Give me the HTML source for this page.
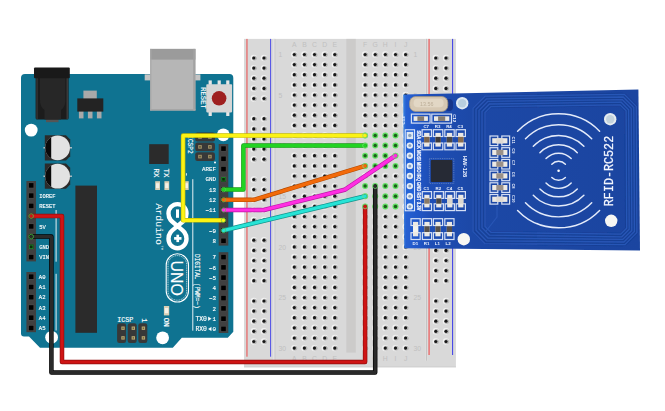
<!DOCTYPE html>
<html lang="en"><head><meta charset="utf-8"><title>Arduino UNO + RFID-RC522 wiring</title>
<style>
html,body{margin:0;padding:0;background:#fff;}
body{width:665px;height:411px;overflow:hidden;}
svg{display:block;filter:blur(0.4px);}
.mono{font-family:"Liberation Mono","DejaVu Sans Mono",monospace;}
.sans{font-family:"Liberation Sans","DejaVu Sans",sans-serif;}
</style></head><body>
<svg width="665" height="411" viewBox="0 0 665 411">
<defs>
<g id="h"><circle r="3.2" fill="#f3f3f3"/><circle cx="0.7" cy="0.2" r="2.5" fill="#b9b9b9"/><circle r="1.6" fill="#191919"/></g>
<g id="gh"><circle r="3.0" fill="#62e062"/><circle r="1.75" fill="#1b5e1b"/></g>
<g id="pin"><rect x="-3" y="-3" width="6" height="6" fill="#4a4a4a"/><rect x="-2.3" y="-2.3" width="4.6" height="4.6" fill="#000"/></g>
<linearGradient id="rf" x1="0" x2="1" y1="0" y2="0">
<stop offset="0" stop-color="#3a86e0"/><stop offset="0.012" stop-color="#2660d2"/><stop offset="0.06" stop-color="#2157c8"/><stop offset="0.11" stop-color="#1e4eb6"/><stop offset="0.3" stop-color="#1c48a6"/><stop offset="1" stop-color="#1b45a0"/>
</linearGradient>
<filter id="bl" x="-10%" y="-10%" width="120%" height="120%"><feGaussianBlur stdDeviation="0.45"/></filter>
<filter id="bl2" x="-10%" y="-10%" width="120%" height="120%"><feGaussianBlur stdDeviation="0.7"/></filter>
<clipPath id="capclip1"><rect x="40" y="130" width="11.2" height="70"/></clipPath>
</defs>
<rect width="665" height="411" fill="#fff"/>

<g id="breadboard">
<rect x="244" y="38.9" width="211.9" height="328.4" fill="#d9d9d9"/>
<rect x="244" y="366.3" width="211.9" height="1" fill="#cfcfcf"/>
<rect x="346.3" y="38.9" width="9.5" height="313.7" fill="#cccbca"/>
<rect x="273.0" y="38.9" width="2.2" height="321.8" fill="#e2e2e2"/><rect x="274.6" y="38.9" width="0.8" height="321.8" fill="#c6c6c6"/>
<rect x="425.4" y="38.9" width="2.0" height="321.8" fill="#e2e2e2"/><rect x="426.2" y="38.9" width="0.8" height="321.8" fill="#bdbdbd"/>
<rect x="246.3" y="38.9" width="1.3" height="317.8" fill="#e86a6a"/>
<rect x="270.0" y="38.9" width="1.1" height="317.8" fill="#5a5ae6"/>
<rect x="428.3" y="38.9" width="1.6" height="316.1" fill="#e87878"/>
<rect x="452.0" y="38.9" width="1.1" height="316.1" fill="#4a4ae8"/>
<g class="sans" font-size="6.8" fill="#c0c0c0" text-anchor="middle">
<text x="294.3" y="47.2">A</text><text x="294.3" y="361.2">A</text>
<text x="304.4" y="47.2">B</text><text x="304.4" y="361.2">B</text>
<text x="314.5" y="47.2">C</text><text x="314.5" y="361.2">C</text>
<text x="324.7" y="47.2">D</text><text x="324.7" y="361.2">D</text>
<text x="334.8" y="47.2">E</text><text x="334.8" y="361.2">E</text>
<text x="365.1" y="47.2">F</text><text x="365.1" y="361.2">F</text>
<text x="375.2" y="47.2">G</text><text x="375.2" y="361.2">G</text>
<text x="385.3" y="47.2">H</text><text x="385.3" y="361.2">H</text>
<text x="395.5" y="47.2">I</text><text x="395.5" y="361.2">I</text>
<text x="405.6" y="47.2">J</text><text x="405.6" y="361.2">J</text>
<text x="278.5" y="57.1" text-anchor="start">1</text><text x="413.4" y="57.1" text-anchor="start">1</text>
<text x="278.5" y="97.6" text-anchor="start">5</text><text x="413.4" y="97.6" text-anchor="start">5</text>
<text x="278.5" y="148.2" text-anchor="start">10</text><text x="413.4" y="148.2" text-anchor="start">10</text>
<text x="278.5" y="198.8" text-anchor="start">15</text><text x="413.4" y="198.8" text-anchor="start">15</text>
<text x="278.5" y="249.5" text-anchor="start">20</text><text x="413.4" y="249.5" text-anchor="start">20</text>
<text x="278.5" y="300.1" text-anchor="start">25</text><text x="413.4" y="300.1" text-anchor="start">25</text>
<text x="278.5" y="350.7" text-anchor="start">30</text><text x="413.4" y="350.7" text-anchor="start">30</text>
</g>
<g filter="url(#bl)">
<use href="#h" x="294.3" y="54.5"/>
<use href="#h" x="304.4" y="54.5"/>
<use href="#h" x="314.5" y="54.5"/>
<use href="#h" x="324.7" y="54.5"/>
<use href="#h" x="334.8" y="54.5"/>
<use href="#h" x="365.1" y="54.5"/>
<use href="#h" x="375.2" y="54.5"/>
<use href="#h" x="385.3" y="54.5"/>
<use href="#h" x="395.5" y="54.5"/>
<use href="#h" x="405.6" y="54.5"/>
<use href="#h" x="294.3" y="64.6"/>
<use href="#h" x="304.4" y="64.6"/>
<use href="#h" x="314.5" y="64.6"/>
<use href="#h" x="324.7" y="64.6"/>
<use href="#h" x="334.8" y="64.6"/>
<use href="#h" x="365.1" y="64.6"/>
<use href="#h" x="375.2" y="64.6"/>
<use href="#h" x="385.3" y="64.6"/>
<use href="#h" x="395.5" y="64.6"/>
<use href="#h" x="405.6" y="64.6"/>
<use href="#h" x="294.3" y="74.7"/>
<use href="#h" x="304.4" y="74.7"/>
<use href="#h" x="314.5" y="74.7"/>
<use href="#h" x="324.7" y="74.7"/>
<use href="#h" x="334.8" y="74.7"/>
<use href="#h" x="365.1" y="74.7"/>
<use href="#h" x="375.2" y="74.7"/>
<use href="#h" x="385.3" y="74.7"/>
<use href="#h" x="395.5" y="74.7"/>
<use href="#h" x="405.6" y="74.7"/>
<use href="#h" x="294.3" y="84.9"/>
<use href="#h" x="304.4" y="84.9"/>
<use href="#h" x="314.5" y="84.9"/>
<use href="#h" x="324.7" y="84.9"/>
<use href="#h" x="334.8" y="84.9"/>
<use href="#h" x="365.1" y="84.9"/>
<use href="#h" x="375.2" y="84.9"/>
<use href="#h" x="385.3" y="84.9"/>
<use href="#h" x="395.5" y="84.9"/>
<use href="#h" x="405.6" y="84.9"/>
<use href="#h" x="294.3" y="95.0"/>
<use href="#h" x="304.4" y="95.0"/>
<use href="#h" x="314.5" y="95.0"/>
<use href="#h" x="324.7" y="95.0"/>
<use href="#h" x="334.8" y="95.0"/>
<use href="#h" x="365.1" y="95.0"/>
<use href="#h" x="375.2" y="95.0"/>
<use href="#h" x="385.3" y="95.0"/>
<use href="#h" x="395.5" y="95.0"/>
<use href="#h" x="405.6" y="95.0"/>
<use href="#h" x="294.3" y="105.1"/>
<use href="#h" x="304.4" y="105.1"/>
<use href="#h" x="314.5" y="105.1"/>
<use href="#h" x="324.7" y="105.1"/>
<use href="#h" x="334.8" y="105.1"/>
<use href="#h" x="365.1" y="105.1"/>
<use href="#h" x="375.2" y="105.1"/>
<use href="#h" x="385.3" y="105.1"/>
<use href="#h" x="395.5" y="105.1"/>
<use href="#h" x="405.6" y="105.1"/>
<use href="#h" x="294.3" y="115.2"/>
<use href="#h" x="304.4" y="115.2"/>
<use href="#h" x="314.5" y="115.2"/>
<use href="#h" x="324.7" y="115.2"/>
<use href="#h" x="334.8" y="115.2"/>
<use href="#h" x="365.1" y="115.2"/>
<use href="#h" x="375.2" y="115.2"/>
<use href="#h" x="385.3" y="115.2"/>
<use href="#h" x="395.5" y="115.2"/>
<use href="#h" x="405.6" y="115.2"/>
<use href="#h" x="294.3" y="125.4"/>
<use href="#h" x="304.4" y="125.4"/>
<use href="#h" x="314.5" y="125.4"/>
<use href="#h" x="324.7" y="125.4"/>
<use href="#h" x="334.8" y="125.4"/>
<use href="#h" x="365.1" y="125.4"/>
<use href="#h" x="375.2" y="125.4"/>
<use href="#h" x="385.3" y="125.4"/>
<use href="#h" x="395.5" y="125.4"/>
<use href="#h" x="405.6" y="125.4"/>
<use href="#h" x="294.3" y="135.5"/>
<use href="#h" x="304.4" y="135.5"/>
<use href="#h" x="314.5" y="135.5"/>
<use href="#h" x="324.7" y="135.5"/>
<use href="#h" x="334.8" y="135.5"/>
<use href="#gh" x="365.1" y="135.5"/>
<use href="#gh" x="375.2" y="135.5"/>
<use href="#gh" x="385.3" y="135.5"/>
<use href="#gh" x="395.5" y="135.5"/>
<use href="#h" x="405.6" y="135.5"/>
<use href="#h" x="294.3" y="145.6"/>
<use href="#h" x="304.4" y="145.6"/>
<use href="#h" x="314.5" y="145.6"/>
<use href="#h" x="324.7" y="145.6"/>
<use href="#h" x="334.8" y="145.6"/>
<use href="#gh" x="365.1" y="145.6"/>
<use href="#gh" x="375.2" y="145.6"/>
<use href="#gh" x="385.3" y="145.6"/>
<use href="#gh" x="395.5" y="145.6"/>
<use href="#h" x="405.6" y="145.6"/>
<use href="#h" x="294.3" y="155.7"/>
<use href="#h" x="304.4" y="155.7"/>
<use href="#h" x="314.5" y="155.7"/>
<use href="#h" x="324.7" y="155.7"/>
<use href="#h" x="334.8" y="155.7"/>
<use href="#gh" x="365.1" y="155.7"/>
<use href="#gh" x="375.2" y="155.7"/>
<use href="#gh" x="385.3" y="155.7"/>
<use href="#gh" x="395.5" y="155.7"/>
<use href="#h" x="405.6" y="155.7"/>
<use href="#h" x="294.3" y="165.9"/>
<use href="#h" x="304.4" y="165.9"/>
<use href="#h" x="314.5" y="165.9"/>
<use href="#h" x="324.7" y="165.9"/>
<use href="#h" x="334.8" y="165.9"/>
<use href="#gh" x="365.1" y="165.9"/>
<use href="#gh" x="375.2" y="165.9"/>
<use href="#gh" x="385.3" y="165.9"/>
<use href="#gh" x="395.5" y="165.9"/>
<use href="#h" x="405.6" y="165.9"/>
<use href="#h" x="294.3" y="176.0"/>
<use href="#h" x="304.4" y="176.0"/>
<use href="#h" x="314.5" y="176.0"/>
<use href="#h" x="324.7" y="176.0"/>
<use href="#h" x="334.8" y="176.0"/>
<use href="#h" x="365.1" y="176.0"/>
<use href="#h" x="375.2" y="176.0"/>
<use href="#h" x="385.3" y="176.0"/>
<use href="#h" x="395.5" y="176.0"/>
<use href="#h" x="405.6" y="176.0"/>
<use href="#h" x="294.3" y="186.1"/>
<use href="#h" x="304.4" y="186.1"/>
<use href="#h" x="314.5" y="186.1"/>
<use href="#h" x="324.7" y="186.1"/>
<use href="#h" x="334.8" y="186.1"/>
<use href="#gh" x="365.1" y="186.1"/>
<use href="#gh" x="375.2" y="186.1"/>
<use href="#gh" x="385.3" y="186.1"/>
<use href="#gh" x="395.5" y="186.1"/>
<use href="#h" x="405.6" y="186.1"/>
<use href="#h" x="294.3" y="196.2"/>
<use href="#h" x="304.4" y="196.2"/>
<use href="#h" x="314.5" y="196.2"/>
<use href="#h" x="324.7" y="196.2"/>
<use href="#h" x="334.8" y="196.2"/>
<use href="#gh" x="365.1" y="196.2"/>
<use href="#gh" x="375.2" y="196.2"/>
<use href="#gh" x="385.3" y="196.2"/>
<use href="#gh" x="395.5" y="196.2"/>
<use href="#h" x="405.6" y="196.2"/>
<use href="#h" x="294.3" y="206.4"/>
<use href="#h" x="304.4" y="206.4"/>
<use href="#h" x="314.5" y="206.4"/>
<use href="#h" x="324.7" y="206.4"/>
<use href="#h" x="334.8" y="206.4"/>
<use href="#gh" x="365.1" y="206.4"/>
<use href="#gh" x="375.2" y="206.4"/>
<use href="#gh" x="385.3" y="206.4"/>
<use href="#gh" x="395.5" y="206.4"/>
<use href="#h" x="405.6" y="206.4"/>
<use href="#h" x="294.3" y="216.5"/>
<use href="#h" x="304.4" y="216.5"/>
<use href="#h" x="314.5" y="216.5"/>
<use href="#h" x="324.7" y="216.5"/>
<use href="#h" x="334.8" y="216.5"/>
<use href="#h" x="365.1" y="216.5"/>
<use href="#h" x="375.2" y="216.5"/>
<use href="#h" x="385.3" y="216.5"/>
<use href="#h" x="395.5" y="216.5"/>
<use href="#h" x="405.6" y="216.5"/>
<use href="#h" x="294.3" y="226.6"/>
<use href="#h" x="304.4" y="226.6"/>
<use href="#h" x="314.5" y="226.6"/>
<use href="#h" x="324.7" y="226.6"/>
<use href="#h" x="334.8" y="226.6"/>
<use href="#h" x="365.1" y="226.6"/>
<use href="#h" x="375.2" y="226.6"/>
<use href="#h" x="385.3" y="226.6"/>
<use href="#h" x="395.5" y="226.6"/>
<use href="#h" x="405.6" y="226.6"/>
<use href="#h" x="294.3" y="236.7"/>
<use href="#h" x="304.4" y="236.7"/>
<use href="#h" x="314.5" y="236.7"/>
<use href="#h" x="324.7" y="236.7"/>
<use href="#h" x="334.8" y="236.7"/>
<use href="#h" x="365.1" y="236.7"/>
<use href="#h" x="375.2" y="236.7"/>
<use href="#h" x="385.3" y="236.7"/>
<use href="#h" x="395.5" y="236.7"/>
<use href="#h" x="405.6" y="236.7"/>
<use href="#h" x="294.3" y="246.9"/>
<use href="#h" x="304.4" y="246.9"/>
<use href="#h" x="314.5" y="246.9"/>
<use href="#h" x="324.7" y="246.9"/>
<use href="#h" x="334.8" y="246.9"/>
<use href="#h" x="365.1" y="246.9"/>
<use href="#h" x="375.2" y="246.9"/>
<use href="#h" x="385.3" y="246.9"/>
<use href="#h" x="395.5" y="246.9"/>
<use href="#h" x="405.6" y="246.9"/>
<use href="#h" x="294.3" y="257.0"/>
<use href="#h" x="304.4" y="257.0"/>
<use href="#h" x="314.5" y="257.0"/>
<use href="#h" x="324.7" y="257.0"/>
<use href="#h" x="334.8" y="257.0"/>
<use href="#h" x="365.1" y="257.0"/>
<use href="#h" x="375.2" y="257.0"/>
<use href="#h" x="385.3" y="257.0"/>
<use href="#h" x="395.5" y="257.0"/>
<use href="#h" x="405.6" y="257.0"/>
<use href="#h" x="294.3" y="267.1"/>
<use href="#h" x="304.4" y="267.1"/>
<use href="#h" x="314.5" y="267.1"/>
<use href="#h" x="324.7" y="267.1"/>
<use href="#h" x="334.8" y="267.1"/>
<use href="#h" x="365.1" y="267.1"/>
<use href="#h" x="375.2" y="267.1"/>
<use href="#h" x="385.3" y="267.1"/>
<use href="#h" x="395.5" y="267.1"/>
<use href="#h" x="405.6" y="267.1"/>
<use href="#h" x="294.3" y="277.2"/>
<use href="#h" x="304.4" y="277.2"/>
<use href="#h" x="314.5" y="277.2"/>
<use href="#h" x="324.7" y="277.2"/>
<use href="#h" x="334.8" y="277.2"/>
<use href="#h" x="365.1" y="277.2"/>
<use href="#h" x="375.2" y="277.2"/>
<use href="#h" x="385.3" y="277.2"/>
<use href="#h" x="395.5" y="277.2"/>
<use href="#h" x="405.6" y="277.2"/>
<use href="#h" x="294.3" y="287.4"/>
<use href="#h" x="304.4" y="287.4"/>
<use href="#h" x="314.5" y="287.4"/>
<use href="#h" x="324.7" y="287.4"/>
<use href="#h" x="334.8" y="287.4"/>
<use href="#h" x="365.1" y="287.4"/>
<use href="#h" x="375.2" y="287.4"/>
<use href="#h" x="385.3" y="287.4"/>
<use href="#h" x="395.5" y="287.4"/>
<use href="#h" x="405.6" y="287.4"/>
<use href="#h" x="294.3" y="297.5"/>
<use href="#h" x="304.4" y="297.5"/>
<use href="#h" x="314.5" y="297.5"/>
<use href="#h" x="324.7" y="297.5"/>
<use href="#h" x="334.8" y="297.5"/>
<use href="#h" x="365.1" y="297.5"/>
<use href="#h" x="375.2" y="297.5"/>
<use href="#h" x="385.3" y="297.5"/>
<use href="#h" x="395.5" y="297.5"/>
<use href="#h" x="405.6" y="297.5"/>
<use href="#h" x="294.3" y="307.6"/>
<use href="#h" x="304.4" y="307.6"/>
<use href="#h" x="314.5" y="307.6"/>
<use href="#h" x="324.7" y="307.6"/>
<use href="#h" x="334.8" y="307.6"/>
<use href="#h" x="365.1" y="307.6"/>
<use href="#h" x="375.2" y="307.6"/>
<use href="#h" x="385.3" y="307.6"/>
<use href="#h" x="395.5" y="307.6"/>
<use href="#h" x="405.6" y="307.6"/>
<use href="#h" x="294.3" y="317.7"/>
<use href="#h" x="304.4" y="317.7"/>
<use href="#h" x="314.5" y="317.7"/>
<use href="#h" x="324.7" y="317.7"/>
<use href="#h" x="334.8" y="317.7"/>
<use href="#h" x="365.1" y="317.7"/>
<use href="#h" x="375.2" y="317.7"/>
<use href="#h" x="385.3" y="317.7"/>
<use href="#h" x="395.5" y="317.7"/>
<use href="#h" x="405.6" y="317.7"/>
<use href="#h" x="294.3" y="327.8"/>
<use href="#h" x="304.4" y="327.8"/>
<use href="#h" x="314.5" y="327.8"/>
<use href="#h" x="324.7" y="327.8"/>
<use href="#h" x="334.8" y="327.8"/>
<use href="#h" x="365.1" y="327.8"/>
<use href="#h" x="375.2" y="327.8"/>
<use href="#h" x="385.3" y="327.8"/>
<use href="#h" x="395.5" y="327.8"/>
<use href="#h" x="405.6" y="327.8"/>
<use href="#h" x="294.3" y="338.0"/>
<use href="#h" x="304.4" y="338.0"/>
<use href="#h" x="314.5" y="338.0"/>
<use href="#h" x="324.7" y="338.0"/>
<use href="#h" x="334.8" y="338.0"/>
<use href="#h" x="365.1" y="338.0"/>
<use href="#h" x="375.2" y="338.0"/>
<use href="#h" x="385.3" y="338.0"/>
<use href="#h" x="395.5" y="338.0"/>
<use href="#h" x="405.6" y="338.0"/>
<use href="#h" x="294.3" y="348.1"/>
<use href="#h" x="304.4" y="348.1"/>
<use href="#h" x="314.5" y="348.1"/>
<use href="#h" x="324.7" y="348.1"/>
<use href="#h" x="334.8" y="348.1"/>
<use href="#h" x="365.1" y="348.1"/>
<use href="#h" x="375.2" y="348.1"/>
<use href="#h" x="385.3" y="348.1"/>
<use href="#h" x="395.5" y="348.1"/>
<use href="#h" x="405.6" y="348.1"/>
<use href="#h" x="253.8" y="58.0"/>
<use href="#h" x="264.0" y="58.0"/>
<use href="#h" x="435.8" y="58.0"/>
<use href="#h" x="446.0" y="58.0"/>
<use href="#h" x="253.8" y="68.1"/>
<use href="#h" x="264.0" y="68.1"/>
<use href="#h" x="435.8" y="68.1"/>
<use href="#h" x="446.0" y="68.1"/>
<use href="#h" x="253.8" y="78.2"/>
<use href="#h" x="264.0" y="78.2"/>
<use href="#h" x="435.8" y="78.2"/>
<use href="#h" x="446.0" y="78.2"/>
<use href="#h" x="253.8" y="88.4"/>
<use href="#h" x="264.0" y="88.4"/>
<use href="#h" x="435.8" y="88.4"/>
<use href="#h" x="446.0" y="88.4"/>
<use href="#h" x="253.8" y="98.5"/>
<use href="#h" x="264.0" y="98.5"/>
<use href="#h" x="435.8" y="98.5"/>
<use href="#h" x="446.0" y="98.5"/>
<use href="#h" x="253.8" y="118.7"/>
<use href="#h" x="264.0" y="118.7"/>
<use href="#h" x="435.8" y="118.7"/>
<use href="#h" x="446.0" y="118.7"/>
<use href="#h" x="253.8" y="128.9"/>
<use href="#h" x="264.0" y="128.9"/>
<use href="#h" x="435.8" y="128.9"/>
<use href="#h" x="446.0" y="128.9"/>
<use href="#h" x="253.8" y="139.0"/>
<use href="#h" x="264.0" y="139.0"/>
<use href="#h" x="435.8" y="139.0"/>
<use href="#h" x="446.0" y="139.0"/>
<use href="#h" x="253.8" y="149.1"/>
<use href="#h" x="264.0" y="149.1"/>
<use href="#h" x="435.8" y="149.1"/>
<use href="#h" x="446.0" y="149.1"/>
<use href="#h" x="253.8" y="159.2"/>
<use href="#h" x="264.0" y="159.2"/>
<use href="#h" x="435.8" y="159.2"/>
<use href="#h" x="446.0" y="159.2"/>
<use href="#h" x="253.8" y="179.5"/>
<use href="#h" x="264.0" y="179.5"/>
<use href="#h" x="435.8" y="179.5"/>
<use href="#h" x="446.0" y="179.5"/>
<use href="#h" x="253.8" y="189.6"/>
<use href="#h" x="264.0" y="189.6"/>
<use href="#h" x="435.8" y="189.6"/>
<use href="#h" x="446.0" y="189.6"/>
<use href="#h" x="253.8" y="199.7"/>
<use href="#h" x="264.0" y="199.7"/>
<use href="#h" x="435.8" y="199.7"/>
<use href="#h" x="446.0" y="199.7"/>
<use href="#h" x="253.8" y="209.9"/>
<use href="#h" x="264.0" y="209.9"/>
<use href="#h" x="435.8" y="209.9"/>
<use href="#h" x="446.0" y="209.9"/>
<use href="#h" x="253.8" y="220.0"/>
<use href="#h" x="264.0" y="220.0"/>
<use href="#h" x="435.8" y="220.0"/>
<use href="#h" x="446.0" y="220.0"/>
<use href="#h" x="253.8" y="240.2"/>
<use href="#h" x="264.0" y="240.2"/>
<use href="#h" x="435.8" y="240.2"/>
<use href="#h" x="446.0" y="240.2"/>
<use href="#h" x="253.8" y="250.4"/>
<use href="#h" x="264.0" y="250.4"/>
<use href="#h" x="435.8" y="250.4"/>
<use href="#h" x="446.0" y="250.4"/>
<use href="#h" x="253.8" y="260.5"/>
<use href="#h" x="264.0" y="260.5"/>
<use href="#h" x="435.8" y="260.5"/>
<use href="#h" x="446.0" y="260.5"/>
<use href="#h" x="253.8" y="270.6"/>
<use href="#h" x="264.0" y="270.6"/>
<use href="#h" x="435.8" y="270.6"/>
<use href="#h" x="446.0" y="270.6"/>
<use href="#h" x="253.8" y="280.7"/>
<use href="#h" x="264.0" y="280.7"/>
<use href="#h" x="435.8" y="280.7"/>
<use href="#h" x="446.0" y="280.7"/>
<use href="#h" x="253.8" y="301.0"/>
<use href="#h" x="264.0" y="301.0"/>
<use href="#h" x="435.8" y="301.0"/>
<use href="#h" x="446.0" y="301.0"/>
<use href="#h" x="253.8" y="311.1"/>
<use href="#h" x="264.0" y="311.1"/>
<use href="#h" x="435.8" y="311.1"/>
<use href="#h" x="446.0" y="311.1"/>
<use href="#h" x="253.8" y="321.2"/>
<use href="#h" x="264.0" y="321.2"/>
<use href="#h" x="435.8" y="321.2"/>
<use href="#h" x="446.0" y="321.2"/>
<use href="#h" x="253.8" y="331.3"/>
<use href="#h" x="264.0" y="331.3"/>
<use href="#h" x="435.8" y="331.3"/>
<use href="#h" x="446.0" y="331.3"/>
<use href="#h" x="253.8" y="341.5"/>
<use href="#h" x="264.0" y="341.5"/>
<use href="#h" x="435.8" y="341.5"/>
<use href="#h" x="446.0" y="341.5"/>
</g>
</g>
<g id="arduino">
<path d="M25,74 H229.5 Q233.3,74 233.3,78 V331.8 L227.8,337.8 H181.8 L172.8,347.7 H40 L29,336.4 H24 Q21,336.4 21,333.4 V78 Q21,74 25,74 Z" fill="#0f7391"/>
<circle cx="31.2" cy="130.1" r="6.4" fill="#fff"/>
<circle cx="223.3" cy="134.8" r="6.4" fill="#fff"/>
<circle cx="51.6" cy="337.3" r="6.4" fill="#fff"/>
<circle cx="162.6" cy="337.8" r="6.4" fill="#fff"/>
<g stroke="#fff" stroke-width="0.9" fill="none">
<path d="M56.1,210 V261.7 M56.1,273.8 V330.5"/>
<path d="M192.8,179.2 V330.7"/>
<path d="M186.4,173.2 V175.6"/>
</g>
<rect x="46" y="118" width="12.5" height="4.2" fill="#555"/>
<rect x="35.6" y="76" width="33" height="43.4" rx="1.5" fill="#1c1c1c"/>
<path d="M40,78 H65.4 V100 Q65.4,112 52.7,112 Q40,112 40,100 Z" fill="#272727"/>
<rect x="44.5" y="108" width="16.5" height="11.4" fill="#272727"/>
<rect x="36.3" y="78" width="1.5" height="41" fill="#333"/><rect x="66.5" y="78" width="1.5" height="41" fill="#3a3a3a"/>
<rect x="34" y="67.4" width="35.8" height="10.8" rx="1" fill="#191919"/>
<rect x="83.4" y="90.6" width="13.4" height="8.5" fill="#a9a9a9"/>
<rect x="78.9" y="111" width="4.6" height="7.4" fill="#a9a9a9"/>
<rect x="87.9" y="111" width="4.6" height="7.4" fill="#a9a9a9"/>
<rect x="96.9" y="111" width="4.6" height="7.4" fill="#a9a9a9"/>
<rect x="77.3" y="98.4" width="26" height="13.2" fill="#232323"/>
<path d="M44.8,135.2 H66 L70.2,139.4 V156.2 L66,160.4 H44.8 Z" fill="#2b2b2b"/>
<rect x="43.4" y="147.2" width="2" height="1.2" fill="#cfcfcf"/><rect x="70" y="147.2" width="2" height="1.2" fill="#cfcfcf"/>
<circle cx="57.6" cy="147.8" r="12.4" fill="#e2e2e2"/>
<circle cx="57.6" cy="147.8" r="12.4" fill="#0a0a0a" clip-path="url(#capclip1)"/>
<path d="M44.8,163.6 H66 L70.2,167.8 V184.6 L66,188.8 H44.8 Z" fill="#2b2b2b"/>
<rect x="43.4" y="175.6" width="2" height="1.2" fill="#cfcfcf"/><rect x="70" y="175.6" width="2" height="1.2" fill="#cfcfcf"/>
<circle cx="57.6" cy="176.2" r="12.4" fill="#e2e2e2"/>
<circle cx="57.6" cy="176.2" r="12.4" fill="#0a0a0a" clip-path="url(#capclip1)"/>
<rect x="75.4" y="185.6" width="21.6" height="147.2" fill="#2b2b2b"/>
<rect x="149.2" y="144.2" width="19.5" height="19.8" fill="#2b2b2b"/>
<rect x="144.7" y="74.4" width="6" height="6" fill="#c4c4c4"/><rect x="195" y="74.4" width="5.4" height="6" fill="#c4c4c4"/>
<rect x="150.2" y="48.9" width="45.2" height="61.6" fill="#b6b6b6"/>
<rect x="150.2" y="48.9" width="45.2" height="10.7" fill="#9b9b9b"/>
<rect x="193.2" y="48.9" width="2.2" height="61.6" fill="#a2a2a2"/><rect x="150.2" y="48.9" width="1.2" height="61.6" fill="#a8a8a8"/>
<rect x="150.2" y="109" width="45.2" height="1.5" fill="#a6a6a6"/>
<rect x="208.6" y="80.4" width="3.2" height="4.5" fill="#e6e6e6"/>
<rect x="217.6" y="80.4" width="3.2" height="4.5" fill="#e6e6e6"/>
<rect x="226.2" y="80.4" width="3.2" height="4.5" fill="#e6e6e6"/>
<rect x="208.6" y="111.8" width="3.2" height="4.2" fill="#e6e6e6"/>
<rect x="226.2" y="111.8" width="3.2" height="4.2" fill="#e6e6e6"/>
<rect x="206.3" y="84.2" width="25.8" height="28.2" rx="0.8" fill="#d6d6d6"/>
<circle cx="219.1" cy="98.3" r="7.3" fill="#9e1f1f"/>
<rect x="195.2" y="132.6" width="19.8" height="8.8" rx="2.2" fill="#383838"/>
<rect x="198.2" y="135.2" width="3.6" height="3.6" fill="#a39468"/><rect x="199.2" y="136.2" width="1.6" height="1.6" fill="#5c5132"/>
<rect x="208.1" y="135.2" width="3.6" height="3.6" fill="#a39468"/><rect x="209.1" y="136.2" width="1.6" height="1.6" fill="#5c5132"/>
<rect x="195.2" y="142.5" width="19.8" height="8.8" rx="2.2" fill="#383838"/>
<rect x="198.2" y="145.1" width="3.6" height="3.6" fill="#a39468"/><rect x="199.2" y="146.1" width="1.6" height="1.6" fill="#5c5132"/>
<rect x="208.1" y="145.1" width="3.6" height="3.6" fill="#a39468"/><rect x="209.1" y="146.1" width="1.6" height="1.6" fill="#5c5132"/>
<rect x="195.2" y="152.2" width="19.8" height="8.8" rx="2.2" fill="#383838"/>
<rect x="198.2" y="154.8" width="3.6" height="3.6" fill="#a39468"/><rect x="199.2" y="155.8" width="1.6" height="1.6" fill="#5c5132"/>
<rect x="208.1" y="154.8" width="3.6" height="3.6" fill="#a39468"/><rect x="209.1" y="155.8" width="1.6" height="1.6" fill="#5c5132"/>
<circle cx="215" cy="162.5" r="1" fill="#fff"/>
<rect x="117.1" y="323.3" width="9" height="19.6" rx="2.2" fill="#383838"/>
<rect x="127.7" y="323.3" width="9" height="19.6" rx="2.2" fill="#383838"/>
<rect x="138.3" y="323.3" width="9" height="19.6" rx="2.2" fill="#383838"/>
<rect x="121.3" y="326.5" width="3.4" height="3.4" fill="#b8a872"/><rect x="122.3" y="327.5" width="1.4" height="1.4" fill="#6c6038"/>
<rect x="121.3" y="336.2" width="3.4" height="3.4" fill="#b8a872"/><rect x="122.3" y="337.2" width="1.4" height="1.4" fill="#6c6038"/>
<rect x="131.6" y="326.5" width="3.4" height="3.4" fill="#b8a872"/><rect x="132.6" y="327.5" width="1.4" height="1.4" fill="#6c6038"/>
<rect x="131.6" y="336.2" width="3.4" height="3.4" fill="#b8a872"/><rect x="132.6" y="337.2" width="1.4" height="1.4" fill="#6c6038"/>
<rect x="141.7" y="326.5" width="3.4" height="3.4" fill="#b8a872"/><rect x="142.7" y="327.5" width="1.4" height="1.4" fill="#6c6038"/>
<rect x="141.7" y="336.2" width="3.4" height="3.4" fill="#b8a872"/><rect x="142.7" y="337.2" width="1.4" height="1.4" fill="#6c6038"/>
<rect x="26.4" y="181" width="9.6" height="80.4" fill="#404040"/>
<use href="#pin" x="31.2" y="185.4"/>
<use href="#pin" x="31.2" y="195.6"/>
<use href="#pin" x="31.2" y="205.9"/>
<use href="#pin" x="31.2" y="216.1"/>
<use href="#pin" x="31.2" y="226.4"/>
<use href="#pin" x="31.2" y="236.6"/>
<use href="#pin" x="31.2" y="246.8"/>
<use href="#pin" x="31.2" y="257.1"/>
<rect x="26.4" y="272" width="9.6" height="60.2" fill="#404040"/>
<use href="#pin" x="31.2" y="276.7"/>
<use href="#pin" x="31.2" y="287.0"/>
<use href="#pin" x="31.2" y="297.2"/>
<use href="#pin" x="31.2" y="307.5"/>
<use href="#pin" x="31.2" y="317.7"/>
<use href="#pin" x="31.2" y="328.0"/>
<rect x="218.7" y="144" width="9.6" height="101.6" fill="#404040"/>
<use href="#pin" x="223.5" y="148.6"/>
<use href="#pin" x="223.5" y="158.8"/>
<use href="#pin" x="223.5" y="169.1"/>
<use href="#pin" x="223.5" y="179.3"/>
<use href="#pin" x="223.5" y="189.6"/>
<use href="#pin" x="223.5" y="199.8"/>
<use href="#pin" x="223.5" y="210.0"/>
<use href="#pin" x="223.5" y="220.3"/>
<use href="#pin" x="223.5" y="230.5"/>
<use href="#pin" x="223.5" y="240.8"/>
<rect x="218.7" y="252.2" width="9.6" height="80.8" fill="#404040"/>
<use href="#pin" x="223.5" y="257.1"/>
<use href="#pin" x="223.5" y="267.4"/>
<use href="#pin" x="223.5" y="277.6"/>
<use href="#pin" x="223.5" y="287.9"/>
<use href="#pin" x="223.5" y="298.1"/>
<use href="#pin" x="223.5" y="308.4"/>
<use href="#pin" x="223.5" y="318.7"/>
<use href="#pin" x="223.5" y="328.9"/>
<rect x="155.2" y="181.2" width="4.8" height="8.8" fill="#d9cfb4"/><rect x="156.0" y="183.2" width="3.2" height="4.8" fill="#f4f1e8"/>
<rect x="164.4" y="181.2" width="4.8" height="8.8" fill="#d9cfb4"/><rect x="165.20000000000002" y="183.2" width="3.2" height="4.8" fill="#f4f1e8"/>
<rect x="183.9" y="181.2" width="4.8" height="8.8" fill="#d9cfb4"/><rect x="184.70000000000002" y="183.2" width="3.2" height="4.8" fill="#f4f1e8"/>
<rect x="163.9" y="306" width="5.3" height="9.4" fill="#d9cfb4"/><rect x="164.8" y="308" width="3.5" height="5.2" fill="#f4f1e8"/>
<path d="M177.5,226.1 C182.5,222 186.5,219.8 186.5,213.4 C186.5,208.2 182.5,204.1 177.5,204.1 C172.5,204.1 168.5,208.2 168.5,213.4 C168.5,219.8 172.5,222 177.5,226.1 C182.5,230.2 186.5,232.4 186.5,238.8 C186.5,244 182.5,248.3 177.5,248.3 C172.5,248.3 168.5,244 168.5,238.8 C168.5,232.4 172.5,230.2 177.5,226.1 Z" fill="none" stroke="#fff" stroke-width="4.4" stroke-linejoin="round"/>
<rect x="176" y="209.4" width="3" height="8.4" fill="#fff"/>
<rect x="176.4" y="234.7" width="2.7" height="7.4" fill="#fff"/><rect x="174.1" y="237.05" width="7.4" height="2.7" fill="#fff"/>
<rect x="166.2" y="253.8" width="22.3" height="48.2" rx="11.1" fill="none" stroke="#fff" stroke-width="1.1"/>
<rect x="168" y="255.6" width="18.7" height="44.6" rx="9.3" fill="none" stroke="#fff" stroke-width="0.7" stroke-dasharray="1.1 0.7"/>
<g fill="#fff" stroke="#fff" stroke-width="0.14">
<text class="sans" font-size="16.4" transform="translate(171.3,260.6) rotate(90)" textLength="35.4" lengthAdjust="spacingAndGlyphs" stroke="#fff" stroke-width="0.15">UNO</text>
<text class="mono" font-size="9.8" stroke-width="0.05" transform="translate(156.3,203.6) rotate(90)" textLength="41.2" lengthAdjust="spacing">Arduino</text>
<text class="mono" font-size="3.6" stroke-width="0" transform="translate(160.6,245.6) rotate(90)">TM</text>
<text class="mono" font-size="6.6" transform="translate(200.6,87.3) rotate(90)" textLength="21.4" lengthAdjust="spacingAndGlyphs">RESET</text>
<text class="mono" font-size="7.6" transform="translate(188.1,135.2) rotate(90)" textLength="18.4" lengthAdjust="spacingAndGlyphs">ICSP2</text>
<text class="mono" font-size="8" transform="translate(154.4,168.4) rotate(90)" textLength="9" lengthAdjust="spacingAndGlyphs">RX</text>
<text class="mono" font-size="8" transform="translate(164,168.4) rotate(90)" textLength="9" lengthAdjust="spacingAndGlyphs">TX</text>
<text class="mono" font-size="7" transform="translate(164.3,317.8) rotate(90)" textLength="9.1" lengthAdjust="spacingAndGlyphs">ON</text>
<text class="mono" font-size="6.8" transform="translate(194.9,254) rotate(90)" textLength="54.6" lengthAdjust="spacingAndGlyphs">DIGITAL (PWM=~)</text>
<text class="mono" font-size="7" x="117.2" y="321.8" textLength="16.2" lengthAdjust="spacingAndGlyphs">ICSP</text>
<text class="mono" font-size="7" transform="translate(142.2,318.2) rotate(90)">1</text>
<g class="mono" font-size="6.1">
<text x="39.2" y="197.8" textLength="16.4" lengthAdjust="spacingAndGlyphs">IOREF</text>
<text x="39.2" y="208.1" textLength="16.4" lengthAdjust="spacingAndGlyphs">RESET</text>
<text x="39.2" y="228.6" textLength="6.6" lengthAdjust="spacingAndGlyphs">5V</text>
<text x="39.2" y="249.0" textLength="9.8" lengthAdjust="spacingAndGlyphs">GND</text>
<text x="39.2" y="259.3" textLength="9.8" lengthAdjust="spacingAndGlyphs">VIN</text>
<text x="38.8" y="278.8" textLength="6.7" lengthAdjust="spacingAndGlyphs">A0</text>
<text x="38.8" y="289.1" textLength="6.7" lengthAdjust="spacingAndGlyphs">A1</text>
<text x="38.8" y="299.3" textLength="6.7" lengthAdjust="spacingAndGlyphs">A2</text>
<text x="38.8" y="309.6" textLength="6.7" lengthAdjust="spacingAndGlyphs">A3</text>
<text x="38.8" y="319.8" textLength="6.7" lengthAdjust="spacingAndGlyphs">A4</text>
<text x="38.8" y="330.1" textLength="6.7" lengthAdjust="spacingAndGlyphs">A5</text>
</g>
<g class="mono" font-size="6.2" text-anchor="end">
<text x="216.0" y="171.2" textLength="14.0" lengthAdjust="spacingAndGlyphs">AREF</text>
<text x="216.0" y="181.4" textLength="10.5" lengthAdjust="spacingAndGlyphs">GND</text>
<text x="216.0" y="191.7" textLength="7.0" lengthAdjust="spacingAndGlyphs">13</text>
<text x="216.0" y="201.9" textLength="7.0" lengthAdjust="spacingAndGlyphs">12</text>
<text x="216.0" y="212.1" textLength="10.5" lengthAdjust="spacingAndGlyphs">~11</text>
<text x="216.0" y="222.4" textLength="10.5" lengthAdjust="spacingAndGlyphs">~10</text>
<text x="216.0" y="232.6" textLength="7.0" lengthAdjust="spacingAndGlyphs">~9</text>
<text x="216.0" y="242.9" textLength="3.5" lengthAdjust="spacingAndGlyphs">8</text>
<text x="216.0" y="259.2" textLength="3.5" lengthAdjust="spacingAndGlyphs">7</text>
<text x="216.0" y="269.5" textLength="7.0" lengthAdjust="spacingAndGlyphs">~6</text>
<text x="216.0" y="279.7" textLength="7.0" lengthAdjust="spacingAndGlyphs">~5</text>
<text x="216.0" y="290.0" textLength="3.5" lengthAdjust="spacingAndGlyphs">4</text>
<text x="216.0" y="300.2" textLength="7.0" lengthAdjust="spacingAndGlyphs">~3</text>
<text x="216.0" y="310.5" textLength="3.5" lengthAdjust="spacingAndGlyphs">2</text>
<text x="216.0" y="320.8" textLength="3.5" lengthAdjust="spacingAndGlyphs">1</text>
<text x="216.0" y="331.0" textLength="3.5" lengthAdjust="spacingAndGlyphs">0</text>
</g>
<text class="mono" font-size="6.6" x="195.4" y="321.0" textLength="11.6" lengthAdjust="spacingAndGlyphs">TX0</text>
<text class="mono" font-size="6.6" x="195.4" y="331.2" textLength="11.6" lengthAdjust="spacingAndGlyphs">RX0</text>
<path d="M208.2,316.7 l3.2,2 l-3.2,2 Z"/>
<path d="M211.4,326.9 l-3.2,2 l3.2,2 Z"/>
</g>
</g>
<g id="rfid">
<path d="M403.2,94.6 L638.4,89.6 L640,250.4 L404.2,248.2 Z" fill="url(#rf)"/>
<path d="M488.0,101.4 L622.2,99.6 L631.2,108.6 L631.8,230.4 L622.8,239.4 L488.0,238.0 L479.0,229.0 L479.0,110.4 Z" fill="none" stroke="#183b90" stroke-opacity="0.6" stroke-width="13.5" stroke-linejoin="round" filter="url(#bl2)"/>
<g fill="none" stroke="#2856b6" stroke-width="1.3" filter="url(#bl)">
<path d="M485.0,96.2 L624.3,94.4 L636.3,106.4 L636.9,232.6 L624.9,244.6 L485.0,243.6 L473.0,231.6 L473.0,108.2 Z"/>
<path d="M486.5,98.8 L623.2,97.0 L633.8,107.5 L634.4,231.5 L623.9,242.0 L486.5,240.8 L476.0,230.3 L476.0,109.3 Z"/>
<path d="M488.0,101.4 L622.2,99.6 L631.2,108.6 L631.8,230.4 L622.8,239.4 L488.0,238.0 L479.0,229.0 L479.0,110.4 Z"/>
<path d="M489.5,104.0 L621.1,102.2 L628.6,109.7 L629.2,229.3 L621.8,236.8 L489.5,235.2 L482.0,227.7 L482.0,111.5 Z"/>
<path d="M491.0,106.6 L620.1,104.8 L626.1,110.8 L626.7,228.2 L620.7,234.2 L491.0,232.4 L485.0,226.4 L485.0,112.6 Z"/>
<path d="M485.4,232 L497,217 V206" stroke-width="1.1"/>
</g>
<g fill="none" stroke="#e4ebfa" stroke-width="1.45" stroke-linecap="round" filter="url(#bl)">
<path d="M551.8,164.2 A9.5,9.5 0 0 1 565.4,164.2"/>
<path d="M551.8,177.4 A9.5,9.5 0 0 0 565.4,177.4"/>
<path d="M546.0,158.6 A17.5,17.5 0 0 1 571.2,158.6"/>
<path d="M546.0,183.0 A17.5,17.5 0 0 0 571.2,183.0"/>
<path d="M539.9,152.7 A26,26 0 0 1 577.3,152.7"/>
<path d="M539.9,188.9 A26,26 0 0 0 577.3,188.9"/>
<path d="M533.3,146.3 A35.2,35.2 0 0 1 583.9,146.3"/>
<path d="M533.3,195.3 A35.2,35.2 0 0 0 583.9,195.3"/>
<path d="M525.5,138.8 A46,46 0 0 1 591.7,138.8"/>
<path d="M525.5,202.8 A46,46 0 0 0 591.7,202.8"/>
<path d="M517.6,131.2 A57,57 0 0 1 599.6,131.2"/>
<path d="M517.6,210.4 A57,57 0 0 0 599.6,210.4"/>
</g>
<circle cx="558.6" cy="170.8" r="1.3" fill="#fff"/>
<circle cx="462.2" cy="103.2" r="6.2" fill="#dfe9f2" filter="url(#bl2)"/>
<circle cx="610.2" cy="119.2" r="6.2" fill="#e6ecf0" filter="url(#bl2)"/>
<circle cx="463.8" cy="239.2" r="6.2" fill="#f7f7f3" filter="url(#bl2)"/>
<circle cx="611.2" cy="220.8" r="6.2" fill="#f7f7f3" filter="url(#bl2)"/>
<circle cx="462.2" cy="103.2" r="4.2" fill="#b9cfdf"/>
<circle cx="610.2" cy="119.2" r="4.2" fill="#c3d3dd"/>
<text class="mono" font-size="13" fill="#f4f7ff" stroke="#f4f7ff" stroke-width="0.25" transform="translate(613,206.2) rotate(-90)" textLength="70.4" lengthAdjust="spacingAndGlyphs">RFID-RC522</text>
<rect x="445" y="99" width="8" height="12" rx="4" fill="#16358a" filter="url(#bl2)"/>
<rect x="409.6" y="96.6" width="38.2" height="14.8" rx="6" fill="#d6c8b3" stroke="#a39580" stroke-width="0.8" filter="url(#bl)"/>
<rect x="413.6" y="98.8" width="30" height="8.4" rx="4" fill="#e2d7c5" filter="url(#bl)"/>
<text class="sans" font-size="5.4" fill="#bcae98" x="420" y="105.8">13.56</text>
<g filter="url(#bl)">
<rect x="411.4" y="114.1" width="18.7" height="9.0" fill="none" stroke="#d4dff5" stroke-width="1.2"/>
<rect x="413.6" y="116.3" width="14.3" height="4.6" fill="#ece9e4"/>
<rect x="417.4" y="116.3" width="6.7" height="4.6" fill="#857b70"/>
<rect x="431.8" y="114.1" width="19.7" height="9.0" fill="none" stroke="#d4dff5" stroke-width="1.2"/>
<rect x="434.0" y="116.3" width="15.3" height="4.6" fill="#ece9e4"/>
<rect x="438.1" y="116.3" width="7.1" height="4.6" fill="#857b70"/>
<rect x="422.1" y="129.7" width="9.4" height="6.8" fill="none" stroke="#d4dff5" stroke-width="1.2"/>
<rect x="422.1" y="143.0" width="9.4" height="6.8" fill="none" stroke="#d4dff5" stroke-width="1.2"/>
<rect x="424.1" y="132.9" width="5.4" height="13.7" fill="#ece9e4"/>
<rect x="424.1" y="136.9" width="5.4" height="5.6" fill="#7c654e"/>
<rect x="433.4" y="129.7" width="9.4" height="6.8" fill="none" stroke="#d4dff5" stroke-width="1.2"/>
<rect x="433.4" y="143.0" width="9.4" height="6.8" fill="none" stroke="#d4dff5" stroke-width="1.2"/>
<rect x="435.4" y="132.9" width="5.4" height="13.7" fill="#ece9e4"/>
<rect x="435.4" y="136.9" width="5.4" height="5.6" fill="#3c3a3c"/>
<rect x="444.8" y="129.7" width="9.4" height="6.8" fill="none" stroke="#d4dff5" stroke-width="1.2"/>
<rect x="444.8" y="143.0" width="9.4" height="6.8" fill="none" stroke="#d4dff5" stroke-width="1.2"/>
<rect x="446.8" y="132.9" width="5.4" height="13.7" fill="#ece9e4"/>
<rect x="446.8" y="136.9" width="5.4" height="5.6" fill="#4a4644"/>
<rect x="456.0" y="129.7" width="9.4" height="6.8" fill="none" stroke="#d4dff5" stroke-width="1.2"/>
<rect x="456.0" y="143.0" width="9.4" height="6.8" fill="none" stroke="#d4dff5" stroke-width="1.2"/>
<rect x="458.0" y="132.9" width="5.4" height="13.7" fill="#ece9e4"/>
<rect x="458.0" y="136.9" width="5.4" height="5.6" fill="#8a6e50"/>
<rect x="422.3" y="191.6" width="9.2" height="6.8" fill="none" stroke="#d4dff5" stroke-width="1.2"/>
<rect x="422.3" y="203.8" width="9.2" height="6.8" fill="none" stroke="#d4dff5" stroke-width="1.2"/>
<rect x="424.3" y="194.8" width="5.2" height="12.6" fill="#ece9e4"/>
<rect x="424.3" y="198.4" width="5.2" height="5.3" fill="#8a7a66"/>
<rect x="434.2" y="191.6" width="9.2" height="6.8" fill="none" stroke="#d4dff5" stroke-width="1.2"/>
<rect x="434.2" y="203.8" width="9.2" height="6.8" fill="none" stroke="#d4dff5" stroke-width="1.2"/>
<rect x="436.2" y="194.8" width="5.2" height="12.6" fill="#ece9e4"/>
<rect x="436.2" y="198.4" width="5.2" height="5.3" fill="#4a4644"/>
<rect x="445.2" y="191.6" width="9.2" height="6.8" fill="none" stroke="#d4dff5" stroke-width="1.2"/>
<rect x="445.2" y="203.8" width="9.2" height="6.8" fill="none" stroke="#d4dff5" stroke-width="1.2"/>
<rect x="447.2" y="194.8" width="5.2" height="12.6" fill="#ece9e4"/>
<rect x="447.2" y="198.4" width="5.2" height="5.3" fill="#d8d4cc"/>
<rect x="456.2" y="191.6" width="9.2" height="6.8" fill="none" stroke="#d4dff5" stroke-width="1.2"/>
<rect x="456.2" y="203.8" width="9.2" height="6.8" fill="none" stroke="#d4dff5" stroke-width="1.2"/>
<rect x="458.2" y="194.8" width="5.2" height="12.6" fill="#ece9e4"/>
<rect x="458.2" y="198.4" width="5.2" height="5.3" fill="#dcd8d0"/>
<rect x="411.0" y="218.7" width="9.2" height="6.8" fill="none" stroke="#d4dff5" stroke-width="1.2"/>
<rect x="411.0" y="232.7" width="9.2" height="6.8" fill="none" stroke="#d4dff5" stroke-width="1.2"/>
<rect x="413.0" y="221.9" width="5.2" height="14.4" fill="#ece9e4"/>
<rect x="413.0" y="226.2" width="5.2" height="5.8" fill="#f2f2ee"/>
<rect x="422.4" y="218.7" width="9.2" height="6.8" fill="none" stroke="#d4dff5" stroke-width="1.2"/>
<rect x="422.4" y="232.7" width="9.2" height="6.8" fill="none" stroke="#d4dff5" stroke-width="1.2"/>
<rect x="424.4" y="221.9" width="5.2" height="14.4" fill="#ece9e4"/>
<rect x="424.4" y="226.2" width="5.2" height="5.8" fill="#55504c"/>
<rect x="433.4" y="218.7" width="9.2" height="6.8" fill="none" stroke="#d4dff5" stroke-width="1.2"/>
<rect x="433.4" y="232.7" width="9.2" height="6.8" fill="none" stroke="#d4dff5" stroke-width="1.2"/>
<rect x="435.4" y="221.9" width="5.2" height="14.4" fill="#ece9e4"/>
<rect x="435.4" y="226.2" width="5.2" height="5.8" fill="#55504c"/>
<rect x="444.8" y="218.7" width="9.2" height="6.8" fill="none" stroke="#d4dff5" stroke-width="1.2"/>
<rect x="444.8" y="232.7" width="9.2" height="6.8" fill="none" stroke="#d4dff5" stroke-width="1.2"/>
<rect x="446.8" y="221.9" width="5.2" height="14.4" fill="#ece9e4"/>
<rect x="446.8" y="226.2" width="5.2" height="5.8" fill="#55504c"/>
<rect x="490.0" y="136.0" width="7.8" height="9.6" fill="none" stroke="#d4dff5" stroke-width="1.2"/>
<rect x="501.8" y="136.0" width="7.8" height="9.6" fill="none" stroke="#d4dff5" stroke-width="1.2"/>
<rect x="492.2" y="138.2" width="15.2" height="5.2" fill="#ece9e4"/>
<rect x="496.3" y="138.2" width="7.1" height="5.2" fill="#dedad4"/>
<rect x="490.0" y="147.7" width="7.8" height="9.6" fill="none" stroke="#d4dff5" stroke-width="1.2"/>
<rect x="501.8" y="147.7" width="7.8" height="9.6" fill="none" stroke="#d4dff5" stroke-width="1.2"/>
<rect x="492.2" y="149.9" width="15.2" height="5.2" fill="#ece9e4"/>
<rect x="496.3" y="149.9" width="7.1" height="5.2" fill="#9a9088"/>
<rect x="490.0" y="159.4" width="7.8" height="9.6" fill="none" stroke="#d4dff5" stroke-width="1.2"/>
<rect x="501.8" y="159.4" width="7.8" height="9.6" fill="none" stroke="#d4dff5" stroke-width="1.2"/>
<rect x="492.2" y="161.6" width="15.2" height="5.2" fill="#ece9e4"/>
<rect x="496.3" y="161.6" width="7.1" height="5.2" fill="#9a9088"/>
<rect x="490.0" y="171.1" width="7.8" height="9.6" fill="none" stroke="#d4dff5" stroke-width="1.2"/>
<rect x="501.8" y="171.1" width="7.8" height="9.6" fill="none" stroke="#d4dff5" stroke-width="1.2"/>
<rect x="492.2" y="173.3" width="15.2" height="5.2" fill="#ece9e4"/>
<rect x="496.3" y="173.3" width="7.1" height="5.2" fill="#9a9088"/>
<rect x="490.0" y="182.8" width="7.8" height="9.6" fill="none" stroke="#d4dff5" stroke-width="1.2"/>
<rect x="501.8" y="182.8" width="7.8" height="9.6" fill="none" stroke="#d4dff5" stroke-width="1.2"/>
<rect x="492.2" y="185.0" width="15.2" height="5.2" fill="#ece9e4"/>
<rect x="496.3" y="185.0" width="7.1" height="5.2" fill="#9a9088"/>
<rect x="490.0" y="194.5" width="7.8" height="9.6" fill="none" stroke="#d4dff5" stroke-width="1.2"/>
<rect x="501.8" y="194.5" width="7.8" height="9.6" fill="none" stroke="#d4dff5" stroke-width="1.2"/>
<rect x="492.2" y="196.7" width="15.2" height="5.2" fill="#ece9e4"/>
<rect x="496.3" y="196.7" width="7.1" height="5.2" fill="#dedad4"/>
</g>
<rect x="430.8" y="160" width="21.6" height="22" rx="1" fill="#272b35" filter="url(#bl)"/>
<rect x="429.4" y="158.6" width="24.4" height="24.8" fill="none" stroke="#5f7fc0" stroke-width="1" stroke-dasharray="0.9 0.9" filter="url(#bl)"/>
<rect x="405.2" y="129.8" width="9.4" height="81" fill="#2564d8" stroke="#eef3ff" stroke-width="1"/>
<rect x="406.6" y="131.9" width="6.6" height="7.2" fill="#dfe8f3"/><circle cx="409.8" cy="135.5" r="1.7" fill="#8aa2bf"/>
<circle cx="409.8" cy="145.6" r="3.2" fill="#e6edf6"/><circle cx="409.8" cy="145.6" r="1.5" fill="#8aa2bf"/>
<circle cx="409.8" cy="155.7" r="3.2" fill="#e6edf6"/><circle cx="409.8" cy="155.7" r="1.5" fill="#8aa2bf"/>
<circle cx="409.8" cy="165.9" r="3.2" fill="#e6edf6"/><circle cx="409.8" cy="165.9" r="1.5" fill="#8aa2bf"/>
<circle cx="409.8" cy="176.0" r="3.2" fill="#e6edf6"/><circle cx="409.8" cy="176.0" r="1.5" fill="#8aa2bf"/>
<circle cx="409.8" cy="186.1" r="3.2" fill="#e6edf6"/><circle cx="409.8" cy="186.1" r="1.5" fill="#8aa2bf"/>
<circle cx="409.8" cy="196.2" r="3.2" fill="#e6edf6"/><circle cx="409.8" cy="196.2" r="1.5" fill="#8aa2bf"/>
<circle cx="409.8" cy="206.4" r="3.2" fill="#e6edf6"/><circle cx="409.8" cy="206.4" r="1.5" fill="#8aa2bf"/>
<g class="sans" font-size="4.4" font-weight="bold" fill="#eef3ff">
<text transform="translate(416.9,130.4) rotate(90)" font-size="5.2" stroke="#eef3ff" stroke-width="0.3" textLength="80" lengthAdjust="spacingAndGlyphs">SDA SCK MOSI MISO IRQ GND RST 3.3V</text>
<text x="423.4" y="128.2">C7</text>
<text x="434.8" y="128.2">R3</text>
<text x="446.2" y="128.2">R4</text>
<text x="457.6" y="128.2">C3</text>
<text x="423.6" y="190.4">C1</text>
<text x="435.6" y="190.4">R2</text>
<text x="446.6" y="190.4">C4</text>
<text x="457.6" y="190.4">C5</text>
<text x="412.6" y="245.4">D1</text>
<text x="423.8" y="245.4">R1</text>
<text x="434.8" y="245.4">L1</text>
<text x="445.6" y="245.4">L2</text>
<text transform="translate(405.4,124.4) rotate(-90)">C13</text>
<text transform="translate(453.4,114.2) rotate(90)">C12</text>
<text transform="translate(462.8,155.8) rotate(90)" font-size="4.6" textLength="21.6" lengthAdjust="spacingAndGlyphs">HW-126</text>
<text transform="translate(511.6,136.6) rotate(90)" font-size="4">C11</text>
<text transform="translate(511.6,148.3) rotate(90)" font-size="4">C9</text>
<text transform="translate(511.6,160.0) rotate(90)" font-size="4">C7</text>
<text transform="translate(511.6,171.7) rotate(90)" font-size="4">C6</text>
<text transform="translate(511.6,183.4) rotate(90)" font-size="4">C8</text>
<text transform="translate(511.6,195.1) rotate(90)" font-size="4">C10</text>
</g>
</g>
<g id="wires">
<path d="M31.2,216.1 H62 V362 H365.1 V206.4" fill="none" stroke="#8e0c0c" stroke-width="4.5" stroke-linecap="round" stroke-linejoin="round"/>
<path d="M31.2,216.1 H62 V362 H365.1 V206.4" fill="none" stroke="#cf1414" stroke-width="3.2" stroke-linecap="round" stroke-linejoin="round"/>
<path d="M31.2,236.6 H51.4 V372.6 H375.2 V186.1" fill="none" stroke="#000" stroke-width="4.5" stroke-linecap="round" stroke-linejoin="round"/>
<path d="M31.2,236.6 H51.4 V372.6 H375.2 V186.1" fill="none" stroke="#2a2a2a" stroke-width="3.2" stroke-linecap="round" stroke-linejoin="round"/>
<path d="M223.5,220.3 H183.1 V135.6 H365.1" fill="none" stroke="#c9c000" stroke-width="4.5" stroke-linecap="round" stroke-linejoin="round"/>
<path d="M223.5,220.3 H183.1 V135.6 H365.1" fill="none" stroke="#fbf315" stroke-width="3.2" stroke-linecap="round" stroke-linejoin="round"/>
<path d="M223.5,189.6 H243.4 V145.6 H365.1" fill="none" stroke="#169c16" stroke-width="4.5" stroke-linecap="round" stroke-linejoin="round"/>
<path d="M223.5,189.6 H243.4 V145.6 H365.1" fill="none" stroke="#22d322" stroke-width="3.2" stroke-linecap="round" stroke-linejoin="round"/>
<path d="M223.5,199.8 H253.8 L365.1,165.9" fill="none" stroke="#b34a00" stroke-width="4.5" stroke-linecap="round" stroke-linejoin="round"/>
<path d="M223.5,199.8 H253.8 L365.1,165.9" fill="none" stroke="#f26a0a" stroke-width="3.2" stroke-linecap="round" stroke-linejoin="round"/>
<path d="M223.5,210.0 H263.8 L344.6,189.8 L395.5,155.7" fill="none" stroke="#bb16a4" stroke-width="4.5" stroke-linecap="round" stroke-linejoin="round"/>
<path d="M223.5,210.0 H263.8 L344.6,189.8 L395.5,155.7" fill="none" stroke="#ff2ee2" stroke-width="3.2" stroke-linecap="round" stroke-linejoin="round"/>
<path d="M223.5,230.5 L365.1,196.2" fill="none" stroke="#12948c" stroke-width="4.5" stroke-linecap="round" stroke-linejoin="round"/>
<path d="M223.5,230.5 L365.1,196.2" fill="none" stroke="#27e3d6" stroke-width="3.2" stroke-linecap="round" stroke-linejoin="round"/>
</g>
<g fill="none" stroke-width="0.9">
<circle cx="31.2" cy="216.1" r="2.3" stroke="#5fae3a"/><circle cx="31.2" cy="236.6" r="2.3" stroke="#3fae3a"/>
<rect x="29.4" y="245.0" width="3.6" height="3.6" stroke="#1e8a2a" fill="#0a2a0a"/>
<rect x="221.7" y="177.5" width="3.6" height="3.6" stroke="#1e8a2a" fill="#0a2a0a"/>
<circle cx="223.5" cy="189.6" r="2.2" stroke="#58c858" stroke-opacity="0.75"/>
<circle cx="223.5" cy="199.8" r="2.2" stroke="#58c858" stroke-opacity="0.75"/>
<circle cx="223.5" cy="210.0" r="2.2" stroke="#58c858" stroke-opacity="0.75"/>
<circle cx="223.5" cy="220.3" r="2.2" stroke="#58c858" stroke-opacity="0.75"/>
<circle cx="223.5" cy="230.5" r="2.2" stroke="#58c858" stroke-opacity="0.75"/>
</g>
<g fill="none" stroke="#7be27b" stroke-width="0.9" stroke-opacity="0.8">
<circle cx="365.1" cy="135.5" r="2.4"/>
<circle cx="365.1" cy="145.6" r="2.4"/>
<circle cx="365.1" cy="165.9" r="2.4"/>
<circle cx="395.5" cy="155.7" r="2.4"/>
<circle cx="365.1" cy="196.2" r="2.4"/>
<circle cx="365.1" cy="206.4" r="2.4"/>
<circle cx="375.2" cy="186.1" r="2.4"/>
</g>
</svg>
</body></html>
